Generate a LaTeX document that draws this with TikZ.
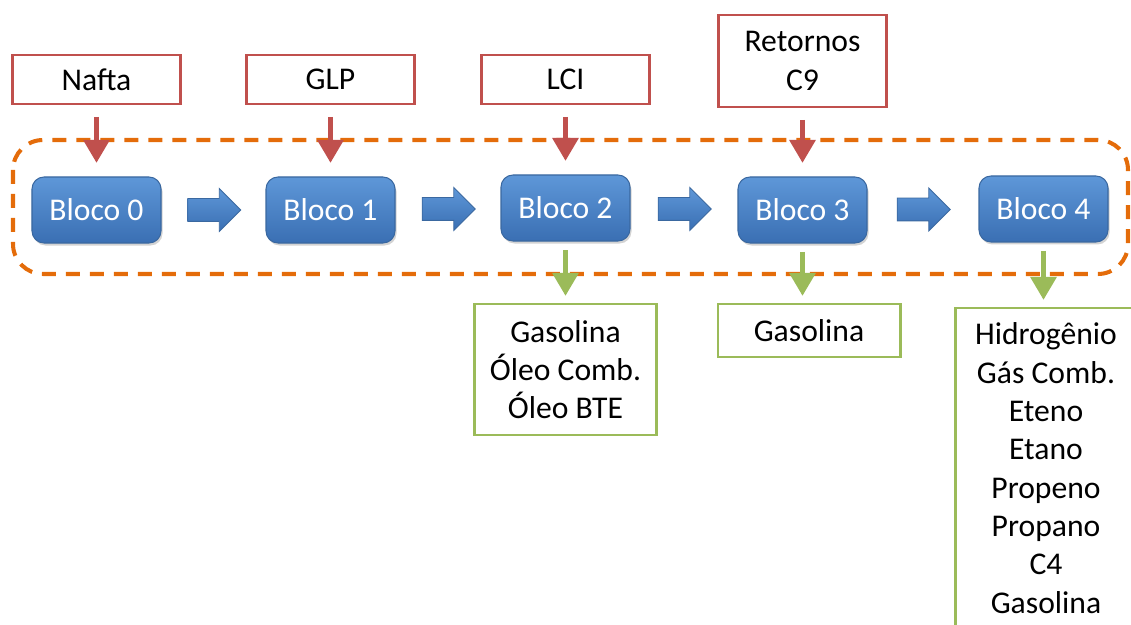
\documentclass[tikz,border=0pt]{standalone}
\usepackage{fontspec}
\setmainfont{Carlito}
\usepackage{tikz}
\usetikzlibrary{arrows.meta,shapes.arrows,shadows,calc}

\definecolor{boxred}{HTML}{C0504D}
\definecolor{boxgreen}{HTML}{9BBB59}
\definecolor{grporange}{HTML}{E46C0A}
\definecolor{blocktop}{HTML}{5E97D8}
\definecolor{blockbot}{HTML}{3A6FB3}
\definecolor{blockline}{HTML}{3A68A0}

\begin{document}
\begin{tikzpicture}[
  every node/.style={font=\fontsize{18}{21.8}\selectfont, outer sep=0pt},
  bloco/.style={rounded corners=0.24cm, minimum width=2.58cm, minimum height=1.32cm,
    top color=blocktop, bottom color=blockbot, draw=blockline, line width=0.6pt,
    text=white, drop shadow={shadow xshift=0.03cm, shadow yshift=-0.05cm, opacity=0.35}},
  fatarrow/.style={single arrow, minimum height=1.06cm, inner xsep=0pt, inner ysep=0.22cm,
    single arrow head extend=0.2cm, top color=blocktop, bottom color=blockbot,
    draw=blockline, line width=0.5pt, xshift=-0.1cm},
  entrada/.style={draw=boxred, line width=1.7pt, minimum width=3.36cm, align=center},
  saida/.style={draw=boxgreen, line width=1.7pt, minimum width=3.64cm, align=center},
  redarrow/.style={draw=boxred, line width=3.4pt, shorten <=0.26cm, shorten >=0.28cm,
    -{Triangle[width=0.5cm,length=0.46cm]}},
  greenarrow/.style={draw=boxgreen, line width=3.4pt, shorten <=0.18cm, shorten >=0.16cm,
    -{Triangle[width=0.5cm,length=0.46cm]}},
  grpline/.style={draw=grporange, line width=2.3pt, dash pattern=on 0.28cm off 0.2cm,
    rounded corners=0.6cm}
]
\clip (0,0) rectangle (22.62,-12.5);
\useasboundingbox (0,0) rectangle (22.62,-12.5);

\draw[grpline] (0.26,-2.8) rectangle (22.56,-5.48);

\node[bloco] (b0) at (1.93,-4.2) {Bloco 0};
\node[bloco] (b1) at (6.61,-4.2) {Bloco 1};
\node[bloco] (b2) at (11.31,-4.16) {Bloco 2};
\node[bloco] (b3) at (16.05,-4.2) {Bloco 3};
\node[bloco] (b4) at (20.87,-4.18) {Bloco 4};

\node[fatarrow] (a01) at ($(b0.east)!0.5!(b1.west)$) {};
\node[fatarrow] (a12) at ($(b1.east)!0.5!(b2.west)$) {};
\node[fatarrow] (a23) at ($(b2.east)!0.5!(b3.west)$) {};
\node[fatarrow] (a34) at ($(b3.east)!0.5!(b4.west)$) {};

\node[entrada, minimum height=0.98cm] (nafta) at (1.93,-1.59) {Nafta};
\node[entrada, minimum height=0.98cm] (glp) at (6.61,-1.59) {GLP};
\node[entrada, minimum height=0.98cm] (lci) at (11.31,-1.59) {LCI};
\node[entrada, minimum height=1.84cm] (retornos) at (16.05,-1.22) {Retornos\\C9};

\node[saida, minimum height=2.62cm] (s2) at (11.31,-7.39) {Gasolina\\Óleo Comb.\\Óleo BTE};
\node[saida, minimum height=1.06cm] (s3) at (16.18,-6.61) {Gasolina};
\node[saida, anchor=north, inner ysep=0.3cm] (s4) at (20.92,-6.16)
  {Hidrogênio\\Gás Comb.\\Eteno\\Etano\\Propeno\\Propano\\C4\\Gasolina};

\draw[redarrow] (nafta.south) -- (b0.north);
\draw[redarrow] (glp.south) -- (b1.north);
\draw[redarrow] (lci.south) -- (b2.north);
\draw[redarrow] (retornos.south) -- (b3.north);

\draw[greenarrow] (b2.south) -- (s2.north);
\draw[greenarrow] (b3.south) -- (b3.south |- s3.north);
\draw[greenarrow] (b4.south) -- (b4.south |- s4.north);
\end{tikzpicture}
\end{document}
